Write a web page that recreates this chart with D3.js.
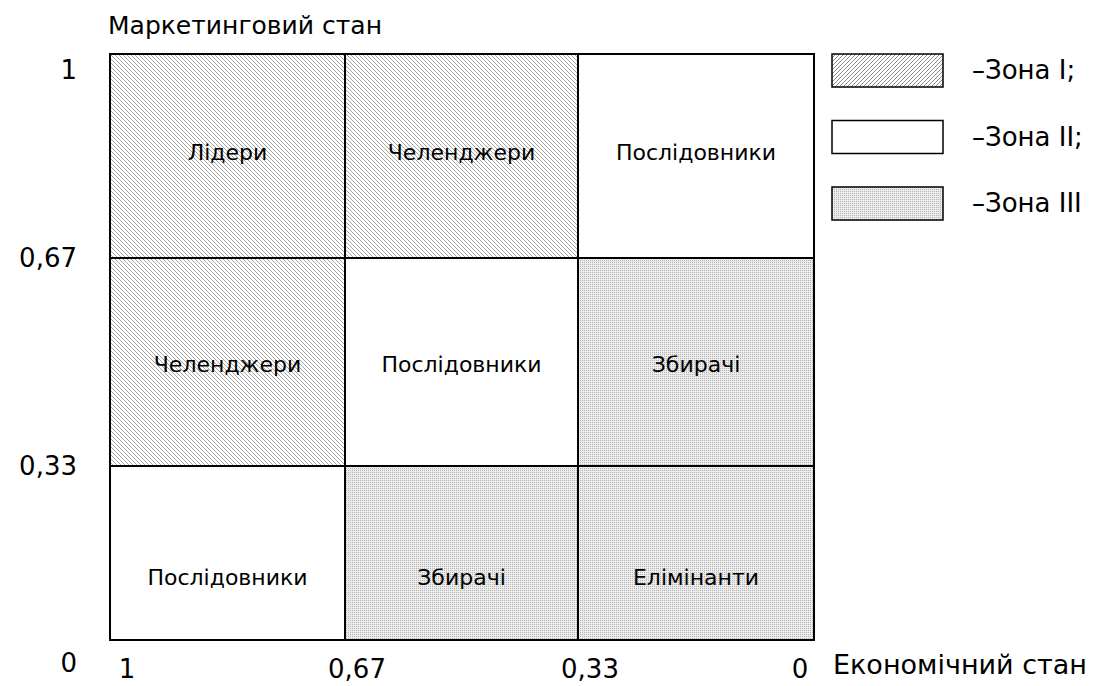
<!DOCTYPE html>
<html>
<head>
<meta charset="utf-8">
<script src="https://cdn.jsdelivr.net/npm/d3@7"></script>
<style>
  body { margin: 0; background: #fff; }
  svg { display: block; }
  text { font-family: "DejaVu Sans", sans-serif; fill: #000; }
</style>
</head>
<body>
<svg id="chart" width="1102" height="686"></svg>
<script>
// boundaries of the matrix (economic state across, marketing state up)
var xBreaks = [1, 0.67, 0.33, 0];
var yBreaks = [1, 0.67, 0.33, 0];
var xTickLabels = ['1', '0,67', '0,33', '0'];
var yTickLabels = ['1', '0,67', '0,33', '0'];

// cells, top row first, left column first
var cellLabels = [
	['Лідери', 'Челенджери', 'Послідовники'],
	['Челенджери', 'Послідовники', 'Збирачі'],
	['Послідовники', 'Збирачі', 'Елімінанти']
];
var cellZones = [
	[1, 1, 2],
	[1, 2, 3],
	[2, 3, 3]
];
var zoneNames = ['–Зона I;', '–Зона II;', '–Зона III'];

var yTitle = 'Маркетинговий стан';
var xTitle = 'Економічний стан';

var svg = d3.select('#chart');

// piecewise scales, the rows and columns are not quite even in the original
var x = d3.scaleLinear().domain(xBreaks).range([110, 345, 578, 814]);
var y = d3.scaleLinear().domain(yBreaks).range([54, 258, 466, 640]);

//fill patterns for the zones
var defs = svg.append('defs');

var hatch = defs.append('pattern')
	.attr('id', 'zone1')
	.attr('patternUnits', 'userSpaceOnUse')
	.attr('width', 4).attr('height', 4);
hatch.append('rect').attr('width', 4).attr('height', 4).attr('fill', '#fff');
hatch.append('path')
	.attr('d', 'M-1,-1 L5,5 M-1,3 L1,5 M3,-1 L5,1')
	.attr('stroke', '#a6a6a6').attr('stroke-width', 1);

var hatchLegend = defs.append('pattern')
	.attr('id', 'zone1legend')
	.attr('patternUnits', 'userSpaceOnUse')
	.attr('width', 4).attr('height', 4);
hatchLegend.append('rect').attr('width', 4).attr('height', 4).attr('fill', '#fff');
hatchLegend.append('path')
	.attr('d', 'M-1,5 L5,-1 M-1,1 L1,-1 M3,5 L5,3')
	.attr('stroke', '#8c8c8c').attr('stroke-width', 1);

var dots = defs.append('pattern')
	.attr('id', 'zone3')
	.attr('patternUnits', 'userSpaceOnUse')
	.attr('width', 2).attr('height', 2);
dots.append('rect').attr('width', 2).attr('height', 2).attr('fill', '#ececec');
dots.append('rect').attr('width', 1).attr('height', 1).attr('fill', '#b4b4b4');

var zoneFill = {1: 'url(#zone1)', 2: '#fff', 3: 'url(#zone3)'};
var legendFill = {1: 'url(#zone1legend)', 2: '#fff', 3: 'url(#zone3)'};

//flatten the cells
var cells = [];
cellLabels.forEach(function(row, r) {
	row.forEach(function(label, c) {
		cells.push({row: r, col: c, label: label, zone: cellZones[r][c]});
	});
});

var cell = svg.selectAll('.cell').data(cells).enter().append('g')
	.attr('class', 'cell');

cell.append('rect')
	.attr('x', function(d) { return x(xBreaks[d.col]); })
	.attr('y', function(d) { return y(yBreaks[d.row]); })
	.attr('width', function(d) { return x(xBreaks[d.col + 1]) - x(xBreaks[d.col]); })
	.attr('height', function(d) { return y(yBreaks[d.row + 1]) - y(yBreaks[d.row]); })
	.attr('fill', function(d) { return zoneFill[d.zone]; })
	.attr('stroke', '#000')
	.attr('stroke-width', 2);

//labels sit a bit above centre in the top rows and lower in the bottom row
var rowShift = [-4, 2, 24];
cell.append('text')
	.attr('x', function(d) { return (x(xBreaks[d.col]) + x(xBreaks[d.col + 1])) / 2; })
	.attr('y', function(d) { return (y(yBreaks[d.row]) + y(yBreaks[d.row + 1])) / 2 + rowShift[d.row]; })
	.attr('text-anchor', 'middle')
	.attr('dominant-baseline', 'central')
	.style('font-size', '22px')
	.text(function(d) { return d.label; });

//axis tick labels
svg.selectAll('.ytick').data(yBreaks).enter().append('text')
	.attr('class', 'ytick')
	.attr('x', 77)
	.attr('y', function(d, i) {
		var shift = i === 0 ? 16 : (i === yBreaks.length - 1 ? 23 : 0);
		return y(d) + shift;
	})
	.attr('text-anchor', 'end')
	.attr('dominant-baseline', 'central')
	.style('font-size', '26px')
	.text(function(d, i) { return yTickLabels[i]; });

svg.selectAll('.xtick').data(xBreaks).enter().append('text')
	.attr('class', 'xtick')
	.attr('x', function(d, i) {
		if (i === 0) return x(d) + 17;
		if (i === xBreaks.length - 1) return x(d) - 14;
		return x(d) + 12;
	})
	.attr('y', 669)
	.attr('text-anchor', 'middle')
	.attr('dominant-baseline', 'central')
	.style('font-size', '26px')
	.text(function(d, i) { return xTickLabels[i]; });

svg.append('text')
	.attr('x', 108).attr('y', 25)
	.attr('dominant-baseline', 'central')
	.style('font-size', '25px')
	.text(yTitle);

svg.append('text')
	.attr('x', 833).attr('y', 664)
	.attr('dominant-baseline', 'central')
	.style('font-size', '27px')
	.text(xTitle);

//legend
var legend = svg.selectAll('.legend').data(zoneNames).enter().append('g')
	.attr('class', 'legend')
	.attr('transform', function(d, i) { return 'translate(832,' + (54 + i * 66.5) + ')'; });

legend.append('rect')
	.attr('width', 111).attr('height', 33)
	.attr('fill', function(d, i) { return legendFill[i + 1]; })
	.attr('stroke', '#000')
	.attr('stroke-width', 1.5);

legend.append('text')
	.attr('x', 140).attr('y', 16)
	.attr('dominant-baseline', 'central')
	.style('font-size', '26px')
	.text(function(d) { return d; });
</script>
</body>
</html>
